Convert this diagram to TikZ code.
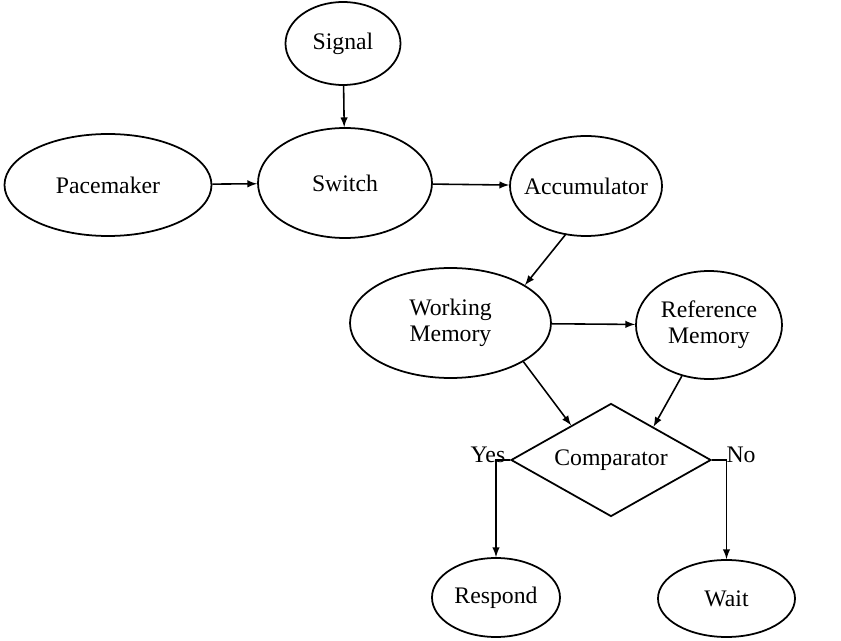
\documentclass[tikz,border=0pt]{standalone}
\usepackage{fontspec}
\setmainfont{Liberation Serif}
\usepackage{tikz}
\usetikzlibrary{shapes.geometric}
\pgfdeclarelayer{edgelayer}
\pgfdeclarelayer{nodelayer}
\pgfsetlayers{edgelayer,nodelayer,main}
\tikzstyle{state}=[ellipse,draw=black,line width=1pt,fill=white,inner sep=0pt,align=center,font=\fontsize{13.5}{15}\selectfont]
\tikzstyle{decision}=[diamond,draw=black,line width=1pt,fill=white,inner sep=0pt,aspect=1.77,font=\fontsize{13.5}{15}\selectfont]
\tikzstyle{answer}=[inner sep=0pt,font=\fontsize{13.5}{15}\selectfont]
\tikzstyle{transition}=[-latex,draw=black,line width=0.9pt]

\begin{document}
\begin{tikzpicture}
	\useasboundingbox (0, 0) rectangle (16.82, -12.82);
	\begin{pgfonlayer}{nodelayer}
		\node [style=state, minimum width=2.3cm, minimum height=1.66cm] (0) at (6.86, -0.87) {Signal};
		\node [style=state, minimum width=4.14cm, minimum height=2.04cm] (1) at (2.16, -3.7) {Pacemaker};
		\node [style=state, minimum width=3.48cm, minimum height=2.2cm] (2) at (6.9, -3.66) {Switch};
		\node [style=state, minimum width=3.04cm, minimum height=2.0cm, inner xsep=-7pt] (3) at (11.72, -3.72) {Accumulator};
		\node [style=state, minimum width=4.02cm, minimum height=2.2cm] (4) at (9.01, -6.46) {Working\\Memory};
		\node [style=state, minimum width=2.92cm, minimum height=2.16cm] (5) at (14.18, -6.5) {Reference\\Memory};
		\node [style=decision, minimum width=4.0cm, minimum height=2.26cm] (6) at (12.22, -9.2) {Comparator};
		\node [style=state, minimum width=2.56cm, minimum height=1.58cm] (7) at (9.92, -11.95) {Respond};
		\node [style=state, minimum width=2.74cm, minimum height=1.54cm] (8) at (14.53, -11.97) {Wait};
		\node [style=answer] (9) at (9.76, -9.1) {Yes};
		\node [style=answer] (10) at (14.82, -9.1) {No};
	\end{pgfonlayer}
	\begin{pgfonlayer}{edgelayer}
		\draw [style=transition] (0) to (2);
		\draw [style=transition] (1) to (2);
		\draw [style=transition] (2) to (3);
		\draw [style=transition] (3.-113) to (4.27);
		\draw [style=transition] (4) to (5);
		\draw [style=transition] (4.-28) to (6.139);
		\draw [style=transition] (5.-118) to (6.38);
		\draw [style=transition] (6.west) -| (7.north);
		\draw [style=transition] (6.east) -| (8.north);
	\end{pgfonlayer}
\end{tikzpicture}
\end{document}
